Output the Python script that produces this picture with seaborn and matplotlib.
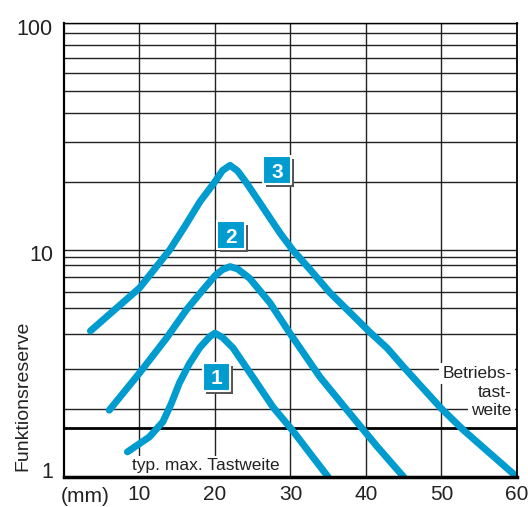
import numpy as np
import pandas as pd
import seaborn as sns
import matplotlib.pyplot as plt
from matplotlib import patheffects as pe
from matplotlib.ticker import FixedLocator, NullFormatter
from matplotlib.transforms import ScaledTranslation

# Kurven (Tastweite in mm, Funktionsreserve)
x1 = [8.4, 11.3, 13.1, 14.2, 15.3, 16.6, 18.0, 19.3, 20.0, 21.0, 22.4, 25.0, 27.7, 30.3, 32.6, 35.0]
y1 = [1.29, 1.5, 1.75, 2.1, 2.6, 3.15, 3.72, 4.15, 4.3, 4.12, 3.7, 2.76, 2.03, 1.6, 1.27, 1.0]

x2 = [6.0, 10.0, 13.6, 16.2, 18.4, 20.0, 21.0, 22.0, 23.0, 24.6, 27.3, 29.9, 33.9, 37.5, 41.5, 45.0]
y2 = [1.97, 2.87, 4.1, 5.44, 6.67, 7.7, 8.2, 8.45, 8.25, 7.5, 5.84, 4.31, 2.76, 1.97, 1.36, 1.0]

x3 = [3.5, 10.0, 14.0, 16.0, 18.0, 20.0, 21.0, 22.0, 23.0, 24.2, 26.3, 28.6, 30.3, 32.6, 35.2,
      37.9, 40.5, 42.8, 45.0, 50.0, 53.0, 60.0]
y3 = [4.4, 6.8, 10.0, 12.7, 16.3, 20.0, 22.4, 23.6, 22.3, 19.7, 15.5, 11.9, 10.0, 8.2, 6.5,
      5.3, 4.35, 3.7, 3.05, 2.0, 1.6, 1.0]

kurven = ['1', '2', '3']
marke_x = [20.2, 22.1, 28.2]
marke_y = [2.76, 11.6, 22.5]

x_ticks = [10, 20, 30, 40, 50, 60]
y_ticks = [1, 10, 100]
y_gitter = [2, 3, 4.25, 5.55, 6.55, 7.6, 8.6, 9.35, 20, 30, 40, 50, 60, 70, 80, 90]
betriebs_y = 1.64

blau = '#009bcf'

sns.set_style('white')
plt.rcParams['font.family'] = ['Liberation Sans', 'DejaVu Sans']

df = pd.concat([
    pd.DataFrame({'x': xs, 'y': ys, 'kurve': k})
    for xs, ys, k in [(x1, y1, '1'), (x2, y2, '2'), (x3, y3, '3')]
])

fig, ax = plt.subplots(figsize=(5.28, 5.07), dpi=100)
fig.subplots_adjust(left=0.1212, right=0.979, bottom=0.0592, top=0.9546)

sns.lineplot(data=df, x='x', y='y', hue='kurve', palette=[blau] * 3, sort=False,
             estimator=None, legend=False, lw=5, solid_capstyle='round',
             solid_joinstyle='round', zorder=4, ax=ax)

ax.set_yscale('log')
ax.set_xlim(0, 60)
ax.set_ylim(1, 100)
ax.set_xticks(x_ticks)
ax.set_xticklabels([str(v) for v in x_ticks])
ax.set_yticks(y_ticks)
ax.set_yticklabels([str(v) for v in y_ticks])
ax.yaxis.set_minor_locator(FixedLocator(y_gitter))
ax.yaxis.set_minor_formatter(NullFormatter())
ax.tick_params(which='both', length=0)
ax.tick_params(axis='y', pad=8, labelsize=15.5, labelcolor='#222222')
ax.tick_params(axis='x', pad=6, labelsize=15, labelcolor='#222222')
ax.set_axisbelow(True)
ax.grid(True, which='major', color='#222222', lw=1)
ax.grid(True, which='minor', axis='y', color='#222222', lw=1)
ax.axhline(betriebs_y, color='black', lw=2, zorder=2)
ax.set_xlabel('')

for side, lw in [('bottom', 2.5), ('left', 1.6), ('top', 1.0), ('right', 1.3)]:
    ax.spines[side].set_color('black')
    ax.spines[side].set_linewidth(lw)
    ax.spines[side].set_zorder(7)

# Y-Beschriftungen leicht versetzt wie im Original
for lab, dy in zip(ax.get_yticklabels(), [5, -2, -3]):
    lab.set_transform(lab.get_transform() + ScaledTranslation(0, dy / 72, fig.dpi_scale_trans))

ax.set_ylabel('Funktionsreserve', fontsize=14, color='#222222')
ax.yaxis.set_label_coords(-0.073, 0.178)

ax.text(2.8, -0.042, '(mm)', transform=ax.get_xaxis_transform(), ha='center', va='center',
        fontsize=15, color='#222222')

ax.text(9.07, 1.07, 'typ. max. Tastweite', fontsize=12.5, color='#222222', ha='left',
        va='baseline', zorder=3,
        bbox=dict(boxstyle='square,pad=0.15', facecolor='white', edgecolor='none'))

for txt, yy in zip(['Betriebs-', 'tast-', 'weite'], [2.73, 2.25, 1.876]):
    ax.text(59.3, yy, txt, fontsize=12.5, color='#222222', ha='right', va='baseline', zorder=3,
            bbox=dict(boxstyle='square,pad=0.2', facecolor='white', edgecolor='none'))

sns.scatterplot(x=marke_x, y=marke_y, marker='s', s=400, color=blau, edgecolor='white',
                linewidth=1.5, zorder=5, legend=False, ax=ax)
ax.collections[-1].set_path_effects([
    pe.SimplePatchShadow(offset=(2.2, -2.2), shadow_rgbFace='#555555', alpha=1),
    pe.Normal()])

for k, mx, my in zip(kurven, marke_x, marke_y):
    ax.text(mx, my, k, color='white', fontsize=15, fontweight='bold', ha='center',
            va='center_baseline', zorder=6)

fig.savefig('out.png', dpi=100)
